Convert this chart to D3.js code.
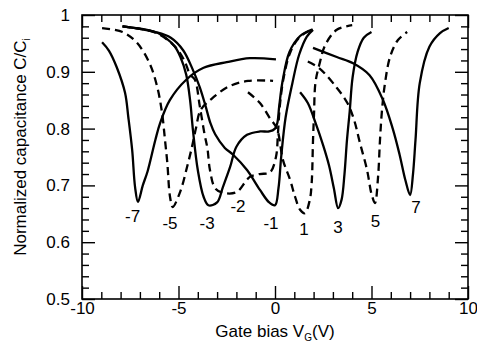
<!DOCTYPE html>
<html>
<head>
<meta charset="utf-8">
<script src="https://cdn.jsdelivr.net/npm/d3@7"></script>
<style>
body { margin: 0; background: #fff; }
svg text { font-family: "Liberation Sans", Arial, Helvetica, sans-serif; fill: #000; }
</style>
</head>
<body>
<div id="chart"></div>
<script>
//Curvas C-V: [VG, C/Ci]
const cv_m7 = [[-8.96,0.952],[-8.6,0.937],[-8.2,0.908],[-7.77,0.863],[-7.6,0.82],[-7.4,0.762],[-7.25,0.697],[-7.1,0.671],
    [-6.85,0.70],[-6.6,0.725],[-6.2,0.78],[-5.95,0.81],[-5.45,0.85],[-4.6,0.886],[-3.7,0.907],[-2.5,0.917],[-1.3,0.924],[0.05,0.922]];
const cv_m5 = [[-8.96,0.977],[-7.9,0.97],[-7.15,0.951],[-6.5,0.915],[-6.1,0.873],[-5.85,0.827],[-5.7,0.78],[-5.58,0.74],
    [-5.44,0.68],[-5.3,0.662],[-4.9,0.69],[-4.56,0.732],[-4.3,0.768],[-4.1,0.8],[-3.85,0.833],[-3.3,0.852],[-2.4,0.874],[-1.4,0.884],[-0.1,0.884]];
const cv_m3 = [[-7.9,0.98],[-6.2,0.97],[-5.6,0.958],[-5.2,0.945],[-4.9,0.926],[-4.6,0.895],[-4.4,0.85],[-4.25,0.797],
    [-4.0,0.727],[-3.7,0.68],[-3.45,0.665],[-3.0,0.67],[-2.7,0.697],[-2.33,0.732],[-2.0,0.768],[-1.45,0.789],[-0.78,0.795],
    [-0.3,0.795],[0.0,0.80],[0.12,0.81],[0.22,0.84],[0.4,0.885],[0.75,0.935],[1.3,0.963],[1.95,0.975]];
const cv_m2 = [[-7.9,0.98],[-6.2,0.969],[-5.2,0.945],[-4.7,0.92],[-4.4,0.895],[-4.15,0.886],[-3.9,0.84],[-3.65,0.79],
    [-3.5,0.765],[-3.37,0.727],[-3.1,0.695],[-2.7,0.687],[-2.0,0.688],[-1.5,0.708],[-1.3,0.715],[-0.8,0.72],[-0.26,0.723],
    [0.05,0.75],[0.15,0.79],[0.25,0.84],[0.45,0.89],[0.8,0.935],[1.3,0.962],[1.9,0.974]];
const cv_m1 = [[-7.9,0.98],[-6.2,0.97],[-5.4,0.96],[-4.76,0.938],[-4.25,0.903],[-3.9,0.873],[-3.6,0.84],[-3.35,0.81],
    [-3.1,0.79],[-2.6,0.766],[-2.17,0.754],[-1.45,0.727],[-0.78,0.692],[-0.3,0.67],[0.0,0.665],[0.18,0.695],[0.32,0.75],
    [0.55,0.82],[0.9,0.88],[1.25,0.93],[1.65,0.962],[1.97,0.974]];
const cv_p1 = [[-1.4,0.864],[-0.78,0.845],[-0.26,0.818],[0.1,0.80],[0.41,0.745],[0.78,0.71],[1.04,0.68],[1.3,0.657],
    [1.55,0.651],[1.8,0.674],[1.9,0.704],[1.97,0.78],[2.02,0.824],[2.1,0.882],[2.33,0.917],[2.6,0.947],[3.2,0.974],[4.0,0.982]];
const cv_p3 = [[1.3,0.864],[1.7,0.845],[2.1,0.81],[2.5,0.77],[2.8,0.735],[3.05,0.695],[3.27,0.66],[3.45,0.675],[3.6,0.72],
    [3.73,0.78],[3.87,0.83],[4.02,0.89],[4.28,0.935],[4.6,0.96],[5.0,0.97]];
const cv_p5 = [[1.7,0.918],[2.3,0.906],[3.2,0.872],[3.75,0.845],[4.1,0.815],[4.4,0.775],[4.77,0.727],[5.0,0.685],[5.18,0.669],
    [5.34,0.715],[5.44,0.78],[5.55,0.835],[5.7,0.88],[5.96,0.926],[6.37,0.956],[6.85,0.97]];
const cv_p7 = [[1.97,0.942],[3.2,0.926],[4.05,0.915],[4.9,0.894],[5.6,0.85],[6.1,0.80],[6.45,0.755],[6.75,0.71],[7.0,0.683],
    [7.15,0.72],[7.28,0.78],[7.5,0.88],[8.0,0.944],[8.55,0.968],[9.0,0.977]];

//Etiquetas de cada curva (texto y posición en unidades de datos)
const curveLabels = ['-7','-5','-3','-2','-1','1','3','5','7'];
const labelV = [-7.38,-5.44,-3.52,-1.92,-0.21,1.5,3.26,5.2,7.3];
const labelC = [0.636,0.623,0.623,0.653,0.623,0.613,0.616,0.627,0.651];

const xTicks = [-10,-5,0,5,10];
const yTicks = [0.5,0.6,0.7,0.8,0.9,1];

let curves = [
    {name: '-7', pts: cv_m7, dashed: false},
    {name: '-5', pts: cv_m5, dashed: true},
    {name: '-3', pts: cv_m3, dashed: false},
    {name: '-2', pts: cv_m2, dashed: true},
    {name: '-1', pts: cv_m1, dashed: false},
    {name: '1', pts: cv_p1, dashed: true},
    {name: '3', pts: cv_p3, dashed: false},
    {name: '5', pts: cv_p5, dashed: true},
    {name: '7', pts: cv_p7, dashed: false}
];

let margin = {top: 15, right: 9, bottom: 57, left: 82},
    width = 477 - margin.left - margin.right,
    height = 356 - margin.top - margin.bottom;

let svg = d3.select("#chart")
    .append("svg")
        .attr("width", width + margin.left + margin.right)
        .attr("height", height + margin.top + margin.bottom)
    .append("g")
        .attr("transform", "translate(" + margin.left + "," + margin.top + ")");

let x = d3.scaleLinear().domain([-10, 10]).range([0, width]);
let y = d3.scaleLinear().domain([0.5, 1]).range([height, 0]);

//Ticks menores
let xMinor = d3.range(-10, 11).filter(function(d) { return d % 5 !== 0; });
let yMinor = d3.range(26).map(function(i) { return +(0.5 + i * 0.02).toFixed(2); })
    .filter(function(d) { return Math.round(d * 100) % 10 !== 0; });

function styleAxis(g) {
    g.select(".domain").remove();
    g.selectAll(".tick line").attr("stroke", "#000").attr("stroke-width", 1.4);
    g.selectAll(".tick text").attr("font-size", 17).attr("fill", "#000");
}

svg.append("g").attr("transform", "translate(0," + height + ")")
    .call(d3.axisBottom(x).tickValues(xTicks).tickSizeInner(-13).tickSizeOuter(0).tickPadding(3)
        .tickFormat(function(d) { return d; }))
    .call(styleAxis);
svg.append("g").attr("transform", "translate(0," + height + ")")
    .call(d3.axisBottom(x).tickValues(xMinor).tickSizeInner(-7).tickSizeOuter(0).tickFormat(""))
    .call(styleAxis);
svg.append("g")
    .call(d3.axisTop(x).tickValues(xTicks).tickSizeInner(-13).tickSizeOuter(0).tickFormat(""))
    .call(styleAxis);
svg.append("g")
    .call(d3.axisTop(x).tickValues(xMinor).tickSizeInner(-7).tickSizeOuter(0).tickFormat(""))
    .call(styleAxis);

svg.append("g")
    .call(d3.axisLeft(y).tickValues(yTicks).tickSizeInner(-13).tickSizeOuter(0).tickPadding(12)
        .tickFormat(function(d) { return d === 1 ? '1' : d.toFixed(1); }))
    .call(styleAxis);
svg.append("g")
    .call(d3.axisLeft(y).tickValues(yMinor).tickSizeInner(-7).tickSizeOuter(0).tickFormat(""))
    .call(styleAxis);
svg.append("g").attr("transform", "translate(" + width + ",0)")
    .call(d3.axisRight(y).tickValues(yTicks).tickSizeInner(-13).tickSizeOuter(0).tickFormat(""))
    .call(styleAxis);
svg.append("g").attr("transform", "translate(" + width + ",0)")
    .call(d3.axisRight(y).tickValues(yMinor).tickSizeInner(-7).tickSizeOuter(0).tickFormat(""))
    .call(styleAxis);

//Marco
svg.append("rect")
    .attr("x", 0).attr("y", 0)
    .attr("width", width).attr("height", height)
    .attr("fill", "none").attr("stroke", "#000").attr("stroke-width", 1.6);

//Curvas
let line = d3.line()
    .x(function(d) { return x(d[0]); })
    .y(function(d) { return y(d[1]); })
    .curve(d3.curveCatmullRom.alpha(0.5));

svg.selectAll(".cv")
    .data(curves)
    .enter()
    .append("path")
    .attr("class", "cv")
    .attr("d", function(d) { return line(d.pts); })
    .attr("fill", "none")
    .attr("stroke", "#000")
    .attr("stroke-width", 2.3)
    .attr("stroke-linejoin", "round")
    .attr("stroke-dasharray", function(d) { return d.dashed ? "8,5" : null; });

svg.selectAll(".cvlabel")
    .data(curveLabels)
    .enter()
    .append("text")
    .attr("class", "cvlabel")
    .attr("x", function(d, i) { return x(labelV[i]); })
    .attr("y", function(d, i) { return y(labelC[i]); })
    .attr("text-anchor", "middle")
    .attr("font-size", 17)
    .text(function(d) { return d; });

//Títulos de ejes
let xt = svg.append("text")
    .attr("x", width / 2)
    .attr("y", height + 38)
    .attr("text-anchor", "middle")
    .attr("font-size", 17);
xt.append("tspan").text("Gate bias V");
xt.append("tspan").attr("font-size", 10).attr("dy", 4).text("G");
xt.append("tspan").attr("dy", -4).text("(V)");

let yt = svg.append("text")
    .attr("transform", "translate(" + (26 - margin.left) + "," + (height / 2 - 10) + ") rotate(-90)")
    .attr("text-anchor", "middle")
    .attr("font-size", 17);
yt.append("tspan").text("Normalized capacitance C/C");
yt.append("tspan").attr("font-size", 10).attr("dy", 4).text("i");
</script>
</body>
</html>
